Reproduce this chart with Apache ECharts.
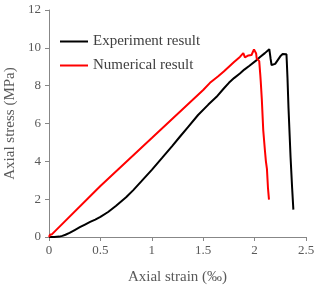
<!DOCTYPE html>
<html><head><meta charset="utf-8">
<script src="https://cdn.jsdelivr.net/npm/echarts@6/dist/echarts.min.js"></script>
<style>html,body{margin:0;padding:0;background:#fff}#c{width:318px;height:286px}</style>
</head><body><div id="c"></div>
<script>
var expStrain = [0,0.05,0.1,0.13,0.16,0.2,0.25,0.3,0.35,0.4,0.45,0.5,0.575,0.65,0.75,0.82,0.9,1.0,1.1,1.2,1.273,1.35,1.45,1.55,1.63,1.7,1.75,1.8,1.857,1.9,1.95,2.02,2.05,2.1,2.143,2.155,2.165,2.18,2.2,2.225,2.25,2.273,2.29,2.31,2.313,2.32,2.33,2.35,2.365,2.377];
var expStress = [0,0.0,0.02,0.06,0.12,0.22,0.37,0.52,0.66,0.8,0.92,1.06,1.32,1.64,2.1,2.48,2.95,3.55,4.18,4.82,5.3,5.8,6.45,7.0,7.41,7.85,8.15,8.4,8.64,8.85,9.05,9.35,9.5,9.72,9.93,9.45,9.09,9.08,9.15,9.35,9.55,9.67,9.68,9.66,9.3,8.4,6.8,4.2,2.6,1.45];
var numStrain = [0,0.01,0.02,0.03,0.5,1.0,1.5,1.566,1.6,1.646,1.66,1.7,1.8,1.857,1.87,1.89,1.906,1.925,1.94,1.97,1.994,2.01,2.015,2.02,2.03,2.045,2.055,2.06,2.07,2.084,2.1,2.11,2.12,2.13,2.14];
var numStress = [0,0.12,0.12,0.15,2.7,5.23,7.77,8.15,8.3,8.5,8.45,8.75,9.25,9.52,9.6,9.72,9.5,9.55,9.6,9.62,9.92,9.97,9.7,9.45,9.4,9.3,8.6,8.2,7.3,5.65,4.6,4.0,3.6,2.6,1.98];
var xTicks = {min:0,max:2.5,interval:0.5};
var yTicks = {min:0,max:12,interval:2};
function zip(a,b){return a.map(function(v,i){return [v,b[i]];});}
var font = 'Liberation Serif';
var chart = echarts.init(document.getElementById('c'));
var axisCommon = {
  axisLine:{lineStyle:{color:'#878787',width:1}},
  axisTick:{show:true,inside:false,length:4,lineStyle:{color:'#878787'}},
  splitLine:{show:false},
  nameTextStyle:{color:'#595959',fontFamily:font,fontSize:15}
};
chart.setOption({
  animation:false,
  grid:{left:49,right:12,top:10,bottom:49,containLabel:false,outerBoundsMode:'none'},
  legend:{
    orient:'vertical',left:55,top:28,itemWidth:28,itemHeight:2,itemGap:7,
    icon:'rect',
    textStyle:{color:'#404040',fontFamily:font,fontSize:15,lineHeight:17},
    data:['Experiment result','Numerical result']
  },
  xAxis:Object.assign({type:'value',min:xTicks.min,max:xTicks.max,interval:xTicks.interval,
    name:'Axial strain (‰)',nameLocation:'middle',nameGap:33},axisCommon,
    {axisLabel:{color:'#595959',fontFamily:font,fontSize:13,margin:7}}),
  yAxis:Object.assign({type:'value',min:yTicks.min,max:yTicks.max,interval:yTicks.interval,
    name:'Axial stress (MPa)',nameLocation:'middle',nameGap:30},axisCommon,
    {axisLabel:{color:'#595959',fontFamily:font,fontSize:13,margin:8}}),
  series:[
    {name:'Experiment result',type:'line',data:zip(expStrain,expStress),symbol:'none',
     lineStyle:{color:'#000',width:2},itemStyle:{color:'#000'}},
    {name:'Numerical result',type:'line',data:zip(numStrain,numStress),symbol:'none',
     lineStyle:{color:'#ff0000',width:2},itemStyle:{color:'#ff0000'}}
  ]
});
</script></body></html>
